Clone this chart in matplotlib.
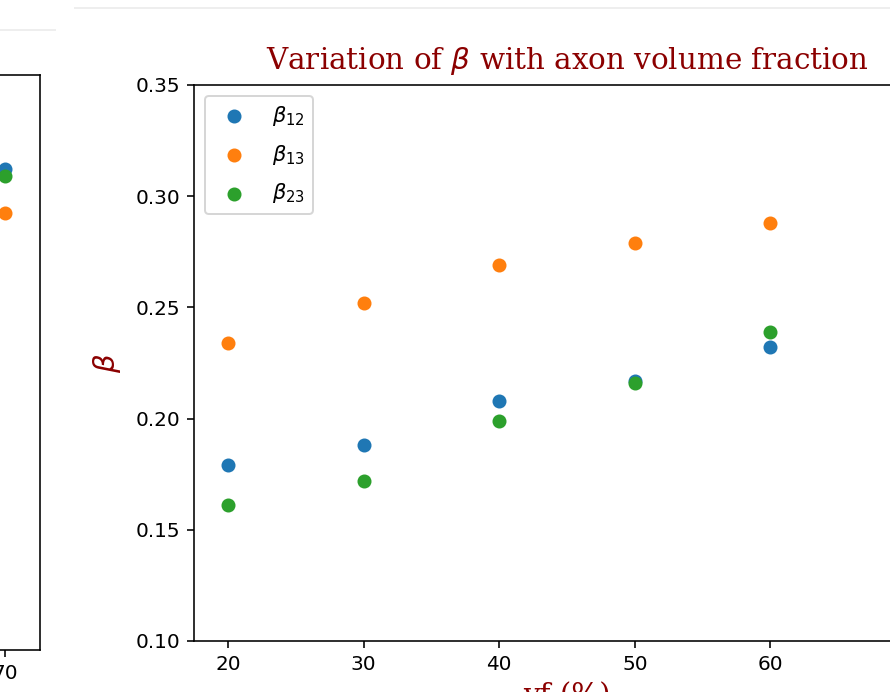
import matplotlib
matplotlib.use("Agg")
import matplotlib.pyplot as plt
from matplotlib.lines import Line2D

# Axon volume fraction (%) and fitted beta coefficients
vf = [20, 30, 40, 50, 60]
beta_12 = [0.179, 0.188, 0.208, 0.217, 0.232]
beta_13 = [0.234, 0.252, 0.269, 0.279, 0.288]
beta_23 = [0.161, 0.172, 0.199, 0.216, 0.239]

# Neighbouring panel (only its last column is shown)
side_x = [70]
side_12 = [0.309]
side_13 = [0.290]
side_23 = [0.306]

W, H = 890, 692
DPI = 144
fig = plt.figure(figsize=(W / DPI, H / DPI), dpi=DPI)

# neighbouring panel, mostly outside the canvas
ax0 = fig.add_axes([-730 / W, 1 - 650 / H, 770 / W, 575 / H])
ax0.scatter(side_x, side_12, color="C0")
ax0.scatter(side_x, side_13, color="C1")
ax0.scatter(side_x, side_23, color="C2")
ax0.set_xlim(17.5, 72.5)
ax0.set_ylim(0.10, 0.35)
ax0.set_xticks([70])

# main panel
ax = fig.add_axes([194 / W, 1 - 641 / H, 746 / W, 556 / H])
ax.scatter(vf, beta_12, color="C0", label=r"$\beta_{12}$")
ax.scatter(vf, beta_13, color="C1", label=r"$\beta_{13}$")
ax.scatter(vf, beta_23, color="C2", label=r"$\beta_{23}$")
ax.set_xlim(17.5, 72.5)
ax.set_ylim(0.10, 0.35)
ax.set_xticks([20, 30, 40, 50, 60, 70])
ax.set_yticks([0.10, 0.15, 0.20, 0.25, 0.30, 0.35])

title_font = dict(family="DejaVu Serif", color="darkred", size=14.7)
ax.set_title(r"Variation of $\beta$ with axon volume fraction", fontdict=title_font, pad=8)
ax.set_ylabel(r"$\beta$", fontdict=title_font, labelpad=6)
ax.set_xlabel("vf (%)", fontdict=title_font, labelpad=4)
ax.legend(loc="upper left", fontsize=10.5, labelspacing=0.7)

# cell separators
sep = "#eeeeee"
fig.add_artist(Line2D([0, 55 / W], [1 - 30 / H] * 2, color=sep, lw=1))
fig.add_artist(Line2D([75 / W, 1], [1 - 8 / H] * 2, color=sep, lw=1))

fig.savefig("out.png", dpi=DPI)
